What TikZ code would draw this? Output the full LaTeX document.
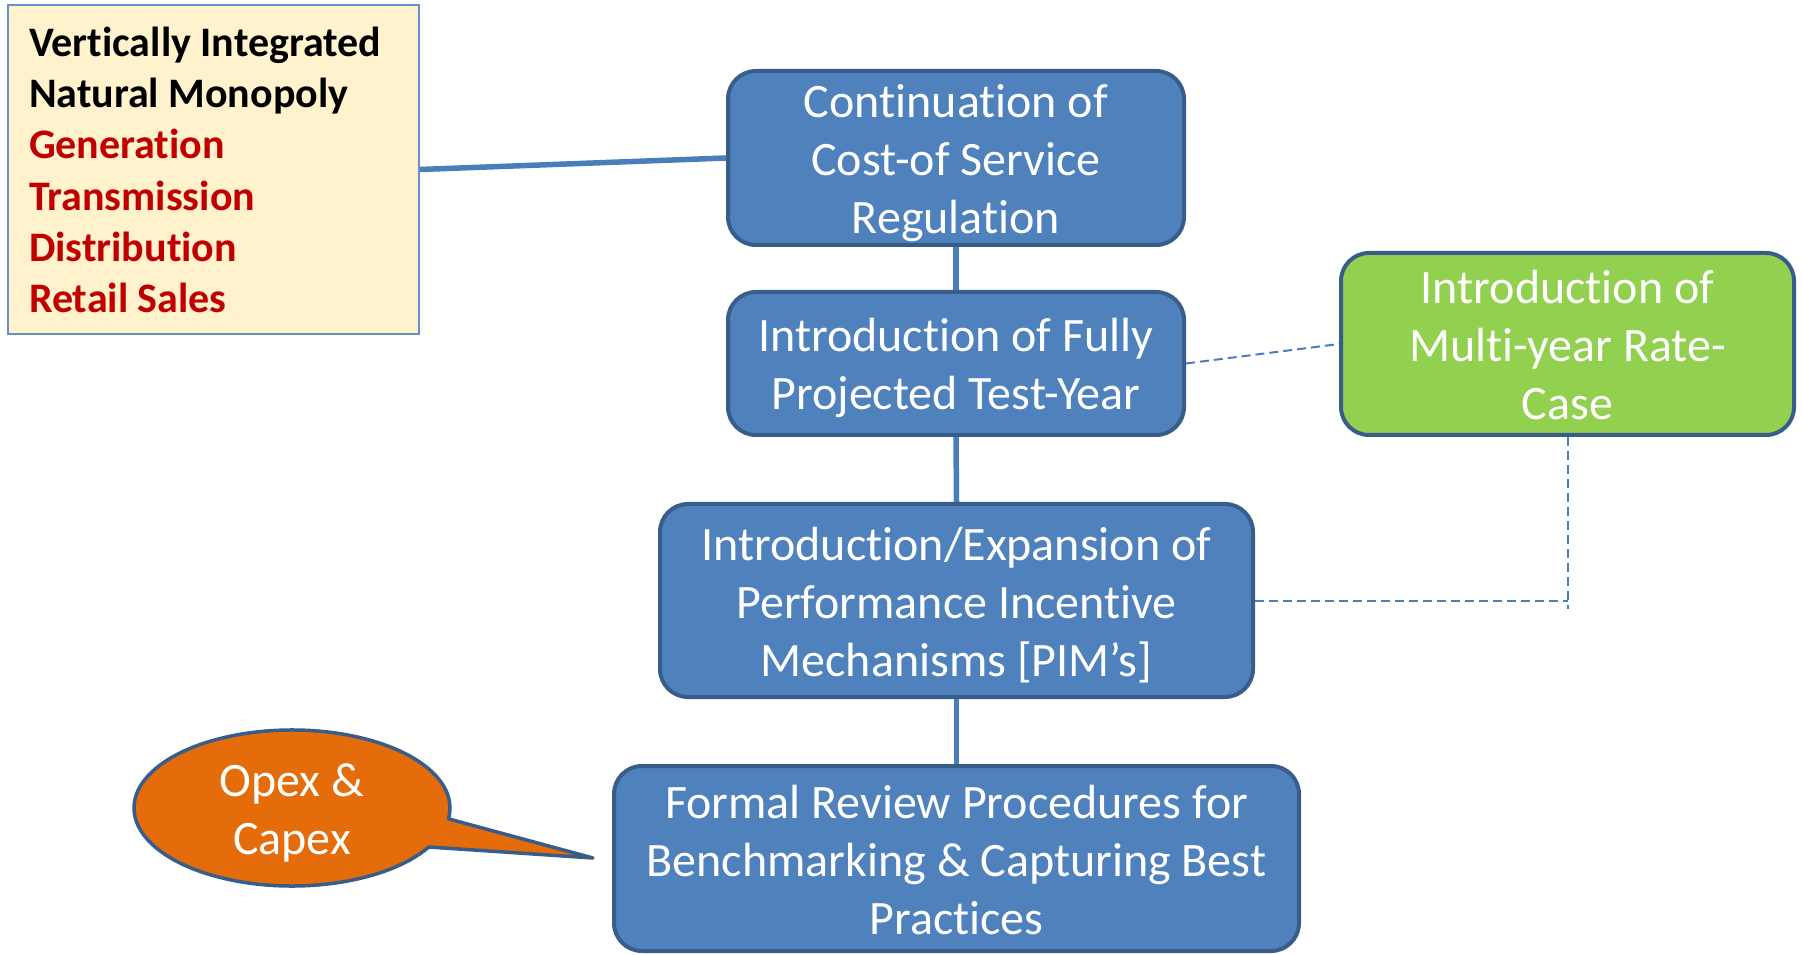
\documentclass[tikz,border=0pt]{standalone}
\usepackage{fontspec}
\setmainfont{Carlito}[Ligatures=NoCommon]
\usetikzlibrary{calc,backgrounds}
\definecolor{boxblue}{HTML}{4F81BD}
\definecolor{edgeblue}{HTML}{385D8A}
\definecolor{leafgreen}{HTML}{92D050}
\definecolor{calloutorange}{HTML}{E46C0A}
\definecolor{cream}{HTML}{FFF2CC}
\definecolor{darkred}{HTML}{C00000}
\definecolor{linkblue}{HTML}{4A7EBB}
% fixed-height line struts so every text block is centred on full line boxes
\newcommand{\bodyline}{\rule[-11.5pt]{0pt}{58pt}}
\newcommand{\keyline}{\rule[-10.5pt]{0pt}{51.2pt}}
\begin{document}
\begin{tikzpicture}[x=1pt,y=1pt,
  stage/.style={draw=edgeblue, line width=4pt, fill=boxblue, rounded corners=28pt,
    text=white, align=center, font=\fontsize{48}{58}\selectfont, inner sep=0pt},
  link/.style={draw=linkblue, line width=5.5pt},
  dashlink/.style={draw=linkblue, line width=2pt, dash pattern=on 9pt off 5pt},
]
\useasboundingbox (0,0) rectangle (1803,954);

% market structure box
\node[draw=linkblue!85, line width=2pt, fill=cream, minimum width=411pt,
  minimum height=329pt, text width=369pt, inner xsep=21pt, inner ysep=0pt, align=flush left,
  font=\bfseries\fontsize{42}{51.2}\selectfont] (vim) at (213.5,784.5)
  {\keyline Vertically Integrated\\\keyline Natural Monopoly\\
   \keyline\textcolor{darkred}{Generation}\\\keyline\textcolor{darkred}{Transmission}\\
   \keyline\textcolor{darkred}{Distribution}\\\keyline\textcolor{darkred}{Retail Sales}};

% regulatory stages
\node[stage, minimum width=456pt, minimum height=170pt] (cos) at (956,796)
  {\bodyline Continuation of\\\bodyline Cost-of Service\\\bodyline Regulation};
\node[stage, minimum width=456pt, minimum height=143pt] (fpty) at (956,590.5)
  {\bodyline Introduction of Fully\\\bodyline Projected Test-Year};
\node[stage, minimum width=593pt, minimum height=193pt] (pim) at (956.5,353.5)
  {\bodyline Introduction/Expansion of\\\bodyline Performance Incentive\\\bodyline Mechanisms [PIM’s]};
\node[stage, minimum width=685pt, minimum height=185pt] (frp) at (956.5,95.5)
  {\bodyline Formal Review Procedures for\\\bodyline Benchmarking \& Capturing Best\\\bodyline Practices};
\node[stage, fill=leafgreen, minimum width=453pt, minimum height=182pt] (mrc) at (1567.5,610)
  {\bodyline Introduction of\\\bodyline Multi-year Rate-\\\bodyline Case};

% connectors
\coordinate (mrcend) at (1567.5,345);
\begin{scope}[on background layer]
  \draw[link] (vim.east) -- (cos.west);
  \draw[link] (cos.south) -- (fpty.north);
  \draw[link] (fpty.south) -- (pim.north);
  \draw[link] (pim.south) -- (frp.north);
  \draw[dashlink] (fpty.east) -- (mrc.west);
  \draw[dashlink] (pim.east) -- (pim.east -| mrc.south);
  \draw[dashlink] (mrc.south) -- (mrcend);
\end{scope}

% speech bubble
\coordinate (opex) at (292,146);
\coordinate (tip) at (593,96);
\draw[draw=edgeblue, line width=3.5pt, fill=calloutorange, line join=round]
  (tip) -- ($(opex)+(-30:158pt and 78pt)$)
  arc[start angle=-30, end angle=-368, x radius=158pt, y radius=78pt] -- cycle;
\node[text=white, align=center, font=\fontsize{48}{58}\selectfont, inner sep=0pt]
  (opextext) at (opex) {\bodyline Opex \&\\\bodyline Capex};
\end{tikzpicture}
\end{document}
